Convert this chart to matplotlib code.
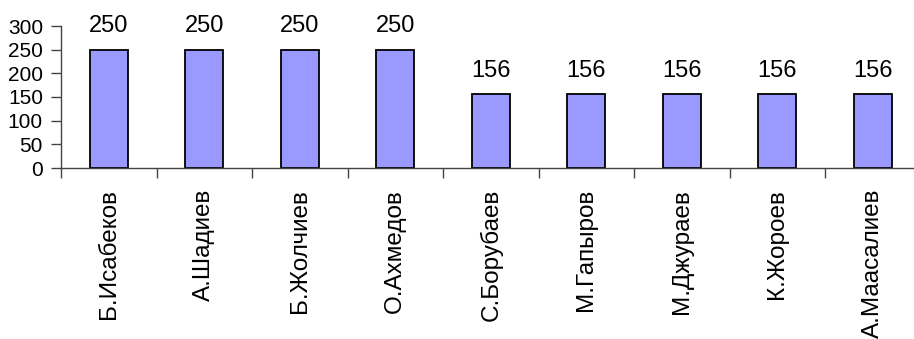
import matplotlib
matplotlib.use("Agg")
import matplotlib.pyplot as plt
import numpy as np

names = ["Б.Исабеков", "А.Шадиев", "Б.Жолчиев", "О.Ахмедов", "С.Борубаев",
         "М.Гапыров", "М.Джураев", "К.Жороев", "А.Маасалиев"]
values = [250, 250, 250, 250, 156, 156, 156, 156, 156]
yticks = [0, 50, 100, 150, 200, 250, 300]

plt.rcParams['font.family'] = ['Liberation Sans', 'DejaVu Sans']

fig = plt.figure(figsize=(9.14, 3.39), dpi=100)
ax = fig.add_axes([61/914, (339-168)/339, 9*95.5/914, 142/339])
x = np.arange(len(names))
bars = ax.bar(x, values, width=0.4, color='#9999FF', edgecolor='black', linewidth=1.3, clip_on=False)
for xi, v in zip(x, values):
    ax.annotate(str(v), (xi, v), xytext=(0, 9), textcoords='offset points',
                ha='center', va='bottom', fontsize=17)

ax.set_xlim(-0.5, len(names) - 0.5)
ax.set_ylim(0, 300)
ax.set_yticks(yticks)
ax.set_yticklabels([str(t) for t in yticks], fontsize=15)
ax.set_xticks(x)
ax.set_xticklabels(names, rotation=90, fontsize=17.5, va='top', ha='center')
ax.set_xticks(np.arange(-0.5, len(names), 1.0), minor=True)
ax.tick_params(axis='x', which='major', length=0, pad=15)
ax.tick_params(axis='x', which='minor', length=7, width=1, color='#444444', direction='out')
ax.tick_params(axis='y', length=7, width=1, color='#444444', pad=6)
for s in ['top', 'right']:
    ax.spines[s].set_visible(False)
for s in ['left', 'bottom']:
    ax.spines[s].set_color('#444444')
    ax.spines[s].set_linewidth(1)
fig.savefig("out.png", dpi=100)
